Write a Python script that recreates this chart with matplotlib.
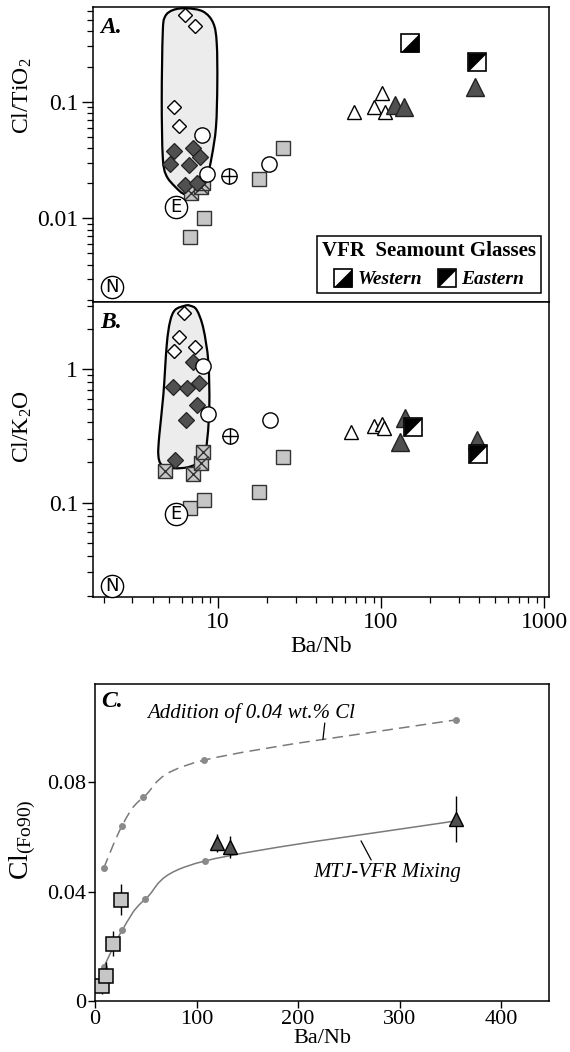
import numpy as np
import matplotlib
matplotlib.use('Agg')
import matplotlib.pyplot as plt
from matplotlib.path import Path
from matplotlib.patches import PathPatch
from matplotlib.lines import Line2D
from matplotlib.ticker import FixedLocator, FuncFormatter, NullFormatter, LogLocator

plt.rcParams['font.family'] = ['Liberation Serif', 'DejaVu Serif']
plt.rcParams['mathtext.fontset'] = 'custom'
plt.rcParams['mathtext.rm'] = 'Liberation Serif'
plt.rcParams['mathtext.it'] = 'Liberation Serif:italic'
plt.rcParams['mathtext.bf'] = 'Liberation Serif:bold'

# ---------------- Panel A: Cl/TiO2 vs Ba/Nb ----------------
A_open_dia_x = [6.31, 7.29, 5.42, 5.77]
A_open_dia_y = [0.553, 0.446, 0.0895, 0.0619]
A_dark_dia_x = [5.42, 7.09, 7.79, 5.10, 6.64, 6.31, 7.50]
A_dark_dia_y = [0.038, 0.0401, 0.0338, 0.0291, 0.0289, 0.0193, 0.0202]
A_circ_x = [8.05, 20.6, 8.56]
A_circ_y = [0.0519, 0.0292, 0.0240]
A_xcirc_x = [11.7]
A_xcirc_y = [0.0232]
A_sq_x = [8.28, 6.77, 17.9, 25.2]
A_sq_y = [0.0100, 0.00689, 0.0218, 0.0404]
A_xsq_x = [6.9, 7.9, 8.1]
A_xsq_y = [0.0166, 0.0186, 0.0200]
A_otri_x = [68.4, 102, 91, 106]
A_otri_y = [0.081, 0.118, 0.0895, 0.081]
A_dtri_x = [377, 122, 138]
A_dtri_y = [0.134, 0.0937, 0.0895]
A_west_x = [150.7]
A_west_y = [0.316]
A_east_x = [385]
A_east_y = [0.218]
A_E_xy = (5.55, 0.0126)
A_N_xy = (2.24, 0.00257)
A_field_x = [4.605, 4.757, 5.348, 6.459, 8.161, 9.399, 9.86, 9.94, 9.76, 9.19,
             8.564, 7.437, 6.306, 5.477, 4.825, 4.605, 4.541]
A_field_y = [0.3855, 0.535, 0.6106, 0.6312, 0.5905, 0.4696, 0.3166, 0.1438, 0.0611,
             0.0338, 0.02277, 0.01752, 0.01609, 0.01869, 0.02354, 0.0338, 0.1034]

# ---------------- Panel B: Cl/K2O vs Ba/Nb ----------------
B_open_dia_x = [6.22, 5.82, 5.42, 7.29]
B_open_dia_y = [2.63, 1.75, 1.37, 1.48]
B_dark_dia_x = [7.09, 5.35, 6.45, 7.71, 7.44, 6.37, 5.48]
B_dark_dia_y = [1.14, 0.741, 0.72, 0.785, 0.54, 0.417, 0.209]
B_circ_x = [8.09, 8.69, 21.0]
B_circ_y = [1.06, 0.46, 0.414]
B_xcirc_x = [11.9]
B_xcirc_y = [0.315]
B_sq_x = [6.77, 8.28, 17.9, 25.0]
B_sq_y = [0.0908, 0.105, 0.121, 0.219]
B_xsq_x = [4.76, 7.03, 7.90, 8.09]
B_xsq_y = [0.174, 0.163, 0.1995, 0.239]
B_otri_x = [65.2, 91, 101, 104.6]
B_otri_y = [0.337, 0.378, 0.389, 0.361]
B_dtri_x = [140, 130.6, 385]
B_dtri_y = [0.43, 0.286, 0.295]
B_west_x = []
B_west_y = []
B_east_x = [156, 394]
B_east_y = [0.367, 0.232]
B_E_xy = (5.55, 0.0827)
B_N_xy = (2.24, 0.0239)
B_field_x = [6.306, 5.477, 5.105, 4.872, 4.645, 4.389, 4.328, 4.541, 5.348, 6.766,
             8.161, 8.637, 8.885, 8.759, 8.161, 7.437, 6.766]
B_field_y = [2.998, 2.783, 2.274, 1.521, 0.6418, 0.3218, 0.2278, 0.1917, 0.1811,
             0.1862, 0.2152, 0.3039, 0.5400, 1.140, 2.029, 2.783, 2.998]

# ---------------- Panel C: Cl(Fo90) vs Ba/Nb ----------------
C_add_x = [8.56, 26.8, 47.5, 107.0, 355.8]
C_add_y = [0.0486, 0.0642, 0.0745, 0.0881, 0.1029]
C_mix_x = [8.6, 26.8, 49.6, 107.8, 355.4]
C_mix_y = [0.0124, 0.0259, 0.0373, 0.0512, 0.0659]
C_sq_x = [7.0, 10.5, 17.8, 25.7]
C_sq_y = [0.0055, 0.0091, 0.0209, 0.0371]
C_sq_err = [0.0030, 0.0052, 0.0046, 0.0057]
C_tri_x = [119.9, 132.7, 355.3]
C_tri_y = [0.0578, 0.0565, 0.0665]
C_tri_err = [0.0034, 0.0040, 0.0084]

GRAY_SQ = '#c6c6c6'
DARK = '#505050'
FIELD = '#ececec'
LINE_GRAY = '#7a7a7a'
TICK_FS = 17
LAB_FS = 17

W_TRI = [(-1, -1), (1, -1), (1, 1), (-1, -1)]   # black lower-right (Western)
E_TRI = [(-1, -1), (-1, 1), (1, 1), (-1, -1)]   # black upper-left (Eastern)


def smooth_closed_log(xs, ys):
    P = np.column_stack([np.log10(xs), np.log10(ys)])
    n = len(P)
    verts = [P[0]]
    codes = [Path.MOVETO]
    for i in range(n):
        p0, p1, p2, p3 = P[i - 1], P[i], P[(i + 1) % n], P[(i + 2) % n]
        verts += [p1 + (p2 - p0) / 6.0, p2 - (p3 - p1) / 6.0, p2]
        codes += [Path.CURVE4] * 3
    return Path(10 ** np.array(verts), codes)


def smooth_open(xs, ys):
    P = np.column_stack([xs, ys])
    n = len(P)
    verts = [P[0]]
    codes = [Path.MOVETO]
    for i in range(n - 1):
        p0 = P[i - 1] if i > 0 else P[i]
        p1, p2 = P[i], P[i + 1]
        p3 = P[i + 2] if i + 2 < n else P[i + 1]
        verts += [p1 + (p2 - p0) / 6.0, p2 - (p3 - p1) / 6.0, p2]
        codes += [Path.CURVE4] * 3
    return Path(np.array(verts), codes)


def circ_letter(ax, xy, letter):
    ax.plot([xy[0]], [xy[1]], 'o', ms=16, mfc='white', mec='black', mew=1.0, zorder=9,
            clip_on=False)
    ax.text(xy[0], xy[1], letter, ha='center', va='center', fontsize=13,
            family='DejaVu Sans', zorder=10)


def draw_log_panel(ax, d):
    ax.add_patch(PathPatch(smooth_closed_log(d['fx'], d['fy']), facecolor=FIELD,
                           edgecolor='black', lw=1.6, zorder=1))
    ax.plot(d['sq'][0], d['sq'][1], 's', ms=10.5, mfc=GRAY_SQ, mec='#333333', mew=1.0,
            ls='none', zorder=3)
    ax.plot(d['xsq'][0], d['xsq'][1], 's', ms=10.5, mfc=GRAY_SQ, mec='#333333', mew=1.0,
            ls='none', zorder=3)
    ax.plot(d['xsq'][0], d['xsq'][1], 'x', ms=10.5, mec='#333333', mew=1.0, ls='none',
            zorder=3.1)
    ax.plot(d['dd'][0], d['dd'][1], 'D', ms=8.5, mfc=DARK, mec='#222222', mew=0.9,
            ls='none', zorder=4)
    ax.plot(d['od'][0], d['od'][1], 'D', ms=6.8, mfc='white', mec='black', mew=1.0,
            ls='none', zorder=4)
    ax.plot(d['c'][0], d['c'][1], 'o', ms=11, mfc='white', mec='black', mew=1.0,
            ls='none', zorder=5)
    ax.plot(d['xc'][0], d['xc'][1], 'o', ms=11, mfc='white', mec='black', mew=1.0,
            ls='none', zorder=5)
    ax.plot(d['xc'][0], d['xc'][1], '+', ms=11, mec='black', mew=1.0, ls='none', zorder=5.1)
    ax.plot(d['ot'][0], d['ot'][1], '^', ms=9.5, mfc='white', mec='black', mew=1.0,
            ls='none', zorder=5)
    ax.plot(d['dt'][0], d['dt'][1], '^', ms=12.5, mfc=DARK, mec='#222222', mew=1.0,
            ls='none', zorder=5)
    for key, tri in (('w', W_TRI), ('e', E_TRI)):
        xs, ys = d[key]
        if len(xs):
            ax.plot(xs, ys, 's', ms=12.5, mfc='white', mec='black', mew=1.2, ls='none',
                    zorder=6)
            ax.plot(xs, ys, marker=tri, ms=12.5, mfc='black', mec='black', mew=0.5,
                    ls='none', zorder=6.1)
    circ_letter(ax, d['E'], 'E')
    circ_letter(ax, d['N'], 'N')


def style_log_axes(ax, ylim):
    ax.set_xscale('log')
    ax.set_yscale('log')
    ax.set_xlim(1.73, 1073)
    ax.set_ylim(*ylim)
    fmt = FuncFormatter(lambda v, p: '%g' % v)
    ax.xaxis.set_major_locator(LogLocator(base=10, numticks=10))
    ax.xaxis.set_minor_locator(LogLocator(base=10, subs=np.arange(2, 10), numticks=20))
    ax.yaxis.set_major_locator(LogLocator(base=10, numticks=10))
    ax.yaxis.set_minor_locator(LogLocator(base=10, subs=np.arange(2, 10), numticks=20))
    ax.xaxis.set_major_formatter(fmt)
    ax.yaxis.set_major_formatter(fmt)
    ax.xaxis.set_minor_formatter(NullFormatter())
    ax.yaxis.set_minor_formatter(NullFormatter())
    ax.tick_params(which='major', direction='out', length=8, width=1.0, labelsize=TICK_FS,
                   pad=3)
    ax.tick_params(which='minor', direction='out', length=4.5, width=0.9)
    for s in ax.spines.values():
        s.set_linewidth(1.1)


fig = plt.figure(figsize=(5.70, 10.52), dpi=100)
axA = fig.add_axes([0.1637, 0.7125, 0.8, 0.2806])
axB = fig.add_axes([0.1637, 0.4325, 0.8, 0.2800])
axC = fig.add_axes([0.1667, 0.0485, 0.7965, 0.3013])

dA = dict(fx=A_field_x, fy=A_field_y, sq=(A_sq_x, A_sq_y), xsq=(A_xsq_x, A_xsq_y),
          dd=(A_dark_dia_x, A_dark_dia_y), od=(A_open_dia_x, A_open_dia_y),
          c=(A_circ_x, A_circ_y), xc=(A_xcirc_x, A_xcirc_y), ot=(A_otri_x, A_otri_y),
          dt=(A_dtri_x, A_dtri_y), w=(A_west_x, A_west_y), e=(A_east_x, A_east_y),
          E=A_E_xy, N=A_N_xy)
dB = dict(fx=B_field_x, fy=B_field_y, sq=(B_sq_x, B_sq_y), xsq=(B_xsq_x, B_xsq_y),
          dd=(B_dark_dia_x, B_dark_dia_y), od=(B_open_dia_x, B_open_dia_y),
          c=(B_circ_x, B_circ_y), xc=(B_xcirc_x, B_xcirc_y), ot=(B_otri_x, B_otri_y),
          dt=(B_dtri_x, B_dtri_y), w=(B_west_x, B_west_y), e=(B_east_x, B_east_y),
          E=B_E_xy, N=B_N_xy)

draw_log_panel(axA, dA)
draw_log_panel(axB, dB)
style_log_axes(axA, (0.0019, 0.644))
style_log_axes(axB, (0.0196, 3.17))
axA.tick_params(axis='x', which='both', bottom=False, labelbottom=False)

axA.set_ylabel('Cl/TiO$_2$', fontsize=LAB_FS)
axA.yaxis.set_label_coords(-0.13, 0.70)
axB.set_ylabel('Cl/K$_2$O', fontsize=LAB_FS)
axB.yaxis.set_label_coords(-0.13, 0.58)
axB.set_xlabel('Ba/Nb', fontsize=LAB_FS, labelpad=2)

axA.text(0.015, 0.932, 'A.', transform=axA.transAxes, fontsize=17, fontweight='bold',
         fontstyle='italic', va='center', ha='left')
axB.text(0.015, 0.932, 'B.', transform=axB.transAxes, fontsize=17, fontweight='bold',
         fontstyle='italic', va='center', ha='left')

# legend in panel A
h_w = (Line2D([], [], marker='s', ms=12.5, mfc='white', mec='black', mew=1.2, ls='none'),
       Line2D([], [], marker=W_TRI, ms=12.5, mfc='black', mec='black', mew=0.5, ls='none'))
h_e = (Line2D([], [], marker='s', ms=12.5, mfc='white', mec='black', mew=1.2, ls='none'),
       Line2D([], [], marker=E_TRI, ms=12.5, mfc='black', mec='black', mew=0.5, ls='none'))
leg = axA.legend([h_w, h_e], ['Western', 'Eastern'], ncol=2, loc='lower right',
                 bbox_to_anchor=(0.982, 0.031), borderaxespad=0, fancybox=False,
                 edgecolor='black', framealpha=1, handlelength=0.9, handletextpad=0.3,
                 columnspacing=0.8, borderpad=0.25,
                 prop={'style': 'italic', 'weight': 'bold', 'size': 14},
                 title='VFR  Seamount Glasses',
                 title_fontproperties={'weight': 'bold', 'size': 15})
leg.get_frame().set_linewidth(1.1)
leg.set_zorder(20)

# ---------------- Panel C ----------------
axC.add_patch(PathPatch(smooth_open(C_add_x, C_add_y), facecolor='none', edgecolor=LINE_GRAY,
                        lw=1.1, linestyle=(0, (7, 4)), zorder=2))
axC.add_patch(PathPatch(smooth_open(C_mix_x, C_mix_y), facecolor='none', edgecolor=LINE_GRAY,
                        lw=1.1, zorder=2))
axC.plot(C_add_x, C_add_y, 'o', ms=4, color='#8a8a8a', ls='none', zorder=3)
axC.plot(C_mix_x, C_mix_y, 'o', ms=4, color='#8a8a8a', ls='none', zorder=3)
axC.errorbar(C_sq_x, C_sq_y, yerr=C_sq_err, fmt='none', ecolor='black', elinewidth=1.0,
             capsize=0, zorder=4)
axC.plot(C_sq_x, C_sq_y, 's', ms=10.5, mfc=GRAY_SQ, mec='black', mew=1.1, ls='none', zorder=5)
axC.errorbar(C_tri_x, C_tri_y, yerr=C_tri_err, fmt='none', ecolor='black', elinewidth=1.0,
             capsize=0, zorder=4)
axC.plot(C_tri_x, C_tri_y, '^', ms=10.5, mfc=DARK, mec='black', mew=1.0, ls='none', zorder=5)

axC.text(51.4, 0.1052, 'Addition of 0.04 wt.% Cl', fontsize=15, fontstyle='italic',
         ha='left', va='center')
axC.text(214.5, 0.0471, 'MTJ-VFR Mixing', fontsize=15, fontstyle='italic', ha='left',
         va='center')
axC.annotate('', xy=(224.4, 0.0957), xytext=(226.2, 0.1017),
             arrowprops=dict(arrowstyle='-', color='black', lw=0.9, shrinkA=0, shrinkB=0))
axC.annotate('', xy=(261.9, 0.0586), xytext=(271.9, 0.0516),
             arrowprops=dict(arrowstyle='-', color='black', lw=0.9, shrinkA=0, shrinkB=0))
axC.text(0.0145, 0.944, 'C.', transform=axC.transAxes, fontsize=17, fontweight='bold',
         fontstyle='italic', va='center', ha='left')

axC.set_xlim(0, 447)
axC.set_ylim(0, 0.116)
axC.xaxis.set_major_locator(FixedLocator([0, 100, 200, 300, 400]))
axC.yaxis.set_major_locator(FixedLocator([0, 0.04, 0.08]))
axC.yaxis.set_major_formatter(FuncFormatter(lambda v, p: '%g' % v))
axC.tick_params(direction='out', length=5, width=1.0, labelsize=16, pad=1.5)
for s in axC.spines.values():
    s.set_linewidth(1.1)
axC.set_xlabel('Ba/Nb', fontsize=16, labelpad=0)
axC.set_ylabel('Cl$_{\\mathrm{(Fo90)}}$', fontsize=20)
axC.yaxis.set_label_coords(-0.125, 0.51)

fig.savefig('out.png', dpi=100)
